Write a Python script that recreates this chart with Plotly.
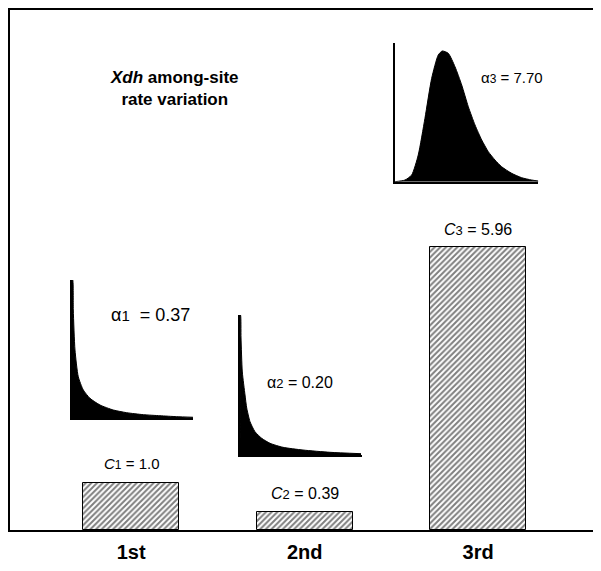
import plotly.graph_objects as go

# ---- data -------------------------------------------------------------
positions = ["1st", "2nd", "3rd"]
position_x = [1, 2, 3]
rate_C = [1.0, 0.39, 5.96]
rate_names = ["1", "2", "3"]
rate_text = ["1.0", "0.39", "5.96"]
alpha_text = ["0.37", "0.20", "7.70"]

# gamma-shaped rate distributions (rate, relative density)
g1_rate = [0.0, 0.035, 0.064, 0.149, 0.312, 0.560, 0.893, 1.388, 2.05, 2.71, 3.54, 4.36, 5.19, 6.0]
g1_dens = [1.6, 1.6, 1.253, 0.790, 0.481, 0.328, 0.231, 0.154, 0.096, 0.065, 0.042, 0.030, 0.019, 0.012]

g2_rate = [0.0, 0.025, 0.049, 0.113, 0.246, 0.330, 0.492, 0.738, 1.067, 1.475, 2.115, 3.098, 4.426, 5.951]
g2_dens = [1.6, 1.6, 1.337, 0.949, 0.686, 0.537, 0.381, 0.266, 0.191, 0.134, 0.088, 0.057, 0.031, 0.015]

g3_rate = [0.0, 0.174, 0.291, 0.406, 0.523, 0.640, 0.755, 0.825, 0.930, 1.047, 1.164, 1.279, 1.396,
           1.513, 1.628, 1.745, 1.861, 2.036, 2.210, 2.385, 2.5]
g3_dens = [0.0, 0.015, 0.060, 0.239, 0.568, 0.926, 1.135, 1.171, 1.150, 1.030, 0.866, 0.672, 0.508,
           0.374, 0.269, 0.194, 0.134, 0.075, 0.036, 0.015, 0.006]

FONT = "Arial, Liberation Sans, sans-serif"

fig = go.Figure()

fig.add_trace(go.Bar(
    x=position_x, y=rate_C, width=0.553,
    marker=dict(color="white",
                line=dict(color="black", width=1),
                pattern=dict(shape="/", fgcolor="black", bgcolor="white",
                             size=4, solidity=0.5)),
    showlegend=False, hoverinfo="skip",
))

insets = [
    (g1_rate, g1_dens, "x2", "y2"),
    (g2_rate, g2_dens, "x3", "y3"),
    (g3_rate, g3_dens, "x4", "y4"),
]
for r, d, xa, ya in insets:
    fig.add_trace(go.Scatter(
        x=r, y=d, xaxis=xa, yaxis=ya, mode="lines",
        line=dict(color="black", width=1, shape="spline", smoothing=0.6),
        fill="tozeroy", fillcolor="black",
        showlegend=False, hoverinfo="skip",
    ))

inset_axis = dict(showline=True, linecolor="black", linewidth=1.5, showgrid=False,
                  zeroline=False, showticklabels=False, ticks="")

# page body has an 8px margin; figure is sized so the plot area lands where the reference has it
fig.update_layout(
    width=593, height=563,
    margin=dict(l=2, r=0, t=2, b=41),
    paper_bgcolor="white", plot_bgcolor="white",
    bargap=0,
    xaxis=dict(range=[0.3016, 3.708], tickmode="array", tickvals=position_x,
               ticktext=positions, showline=True, mirror=True, linecolor="black",
               linewidth=1.5, showgrid=False, zeroline=False, ticks="",
               ticklabelstandoff=3,
               tickfont=dict(family=FONT, size=20, color="black", weight="bold")),
    yaxis=dict(range=[0, 10.97], showline=True, linecolor="black", linewidth=1.5,
               showgrid=False, zeroline=False, showticklabels=False, ticks=""),
    xaxis2=dict(domain=[0.1049, 0.3096], range=[0, 6], anchor="y2", **inset_axis),
    yaxis2=dict(domain=[0.2148, 0.4808], range=[0, 1.6], anchor="x2", **inset_axis),
    xaxis3=dict(domain=[0.3892, 0.5956], range=[0, 6], anchor="y3", **inset_axis),
    yaxis3=dict(domain=[0.1442, 0.4135], range=[0, 1.6], anchor="x3", **inset_axis),
    xaxis4=dict(domain=[0.6514, 0.8939], range=[0, 2.5], anchor="y4", **inset_axis),
    yaxis4=dict(domain=[0.6698, 0.9360], range=[0, 1.24], anchor="x4", **inset_axis),
)


def sub(s, px):
    return f'<span style="font-size:{px}px">{s}</span>'


# bar value labels
c_sizes = [15, 16, 16]
c_shift = [9, 8, 7]
for xv, yv, nm, tx, fs, sh in zip(position_x, rate_C, rate_names, rate_text, c_sizes, c_shift):
    fig.add_annotation(x=xv, y=yv, xref="x", yref="y",
                       text=f"<i>C</i>{sub(nm, fs - 3)} = {tx}",
                       showarrow=False, yanchor="bottom", yshift=sh,
                       font=dict(family=FONT, size=fs, color="black"))

# alpha labels in inset coordinates
a_pos = [(3.87, 1.195, "x2", "y2", 18, "  "), (2.95, 0.823, "x3", "y3", 16, " "),
         (2.04, 0.929, "x4", "y4", 15, " ")]
for (xv, yv, xr, yr, fs, gap), nm, tx in zip(a_pos, rate_names, alpha_text):
    fig.add_annotation(x=xv, y=yv, xref=xr, yref=yr,
                       text=f"α{sub(nm, fs - 3)}{gap}= {tx}",
                       showarrow=False, xanchor="center", yanchor="middle",
                       font=dict(family=FONT, size=fs, color="black"))

# title
fig.add_annotation(x=0.279, y=0.849, xref="paper", yref="paper",
                   xanchor="center", yanchor="middle",
                   text="<b><i>Xdh</i> among-site<br>rate variation</b>",
                   showarrow=False, align="center",
                   font=dict(family=FONT, size=17, color="black"))

fig.write_html("out.html")
